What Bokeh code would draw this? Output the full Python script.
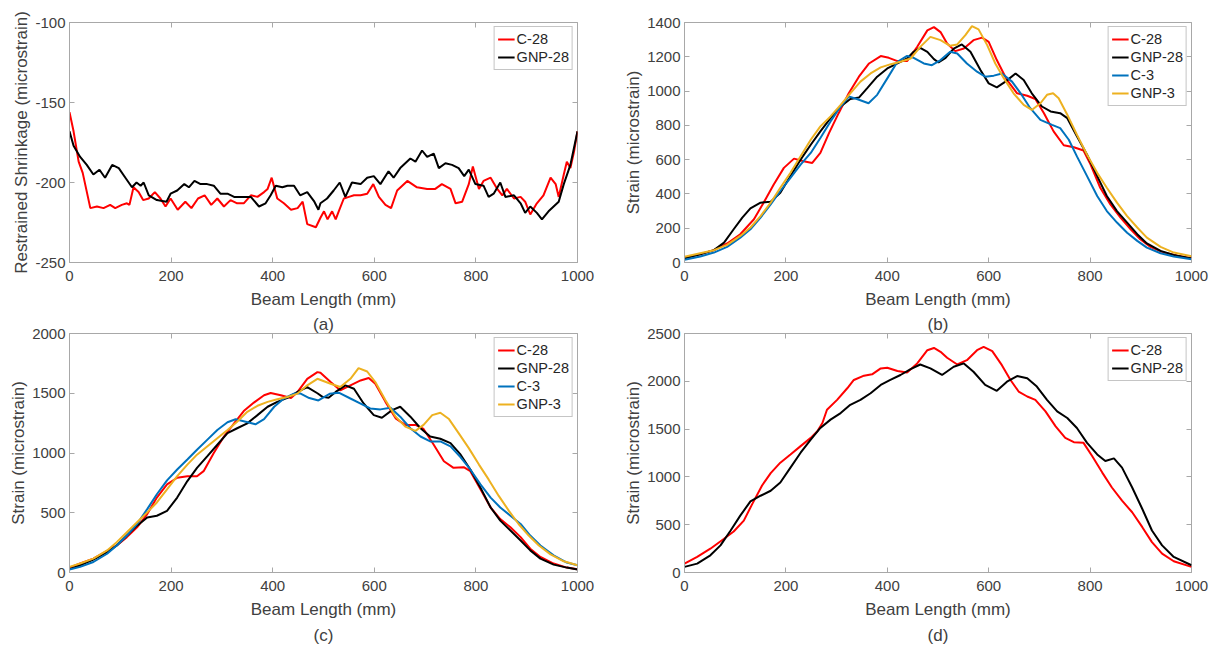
from bokeh.plotting import figure
from bokeh.models import FixedTicker, LinearAxis, Range1d, Title, Legend, LegendItem
from bokeh.layouts import column, row
from bokeh.embed import file_html
from bokeh.resources import INLINE

# ---------------- data (beam length mm, value) ----------------
X_TICKS = [0, 200, 400, 600, 800, 1000]
A_Y_TICKS = [-250, -200, -150, -100]
B_Y_TICKS = [0, 200, 400, 600, 800, 1000, 1200, 1400]
C_Y_TICKS = [0, 500, 1000, 1500, 2000]
D_Y_TICKS = [0, 500, 1000, 1500, 2000, 2500]

A_C28 = [(0, -156), (8, -168), (18, -187), (26, -194), (41, -216), (54, -215), (67, -216), (80, -214),
         (90, -216), (103, -214), (113, -213), (118, -214), (126, -203), (136, -206), (145, -211),
         (156, -210), (168, -206), (179, -210), (189, -215), (199, -210), (213, -217), (228, -212),
         (240, -216), (253, -210), (266, -208), (279, -214), (291, -210), (304, -215), (317, -211),
         (330, -213), (343, -213), (357, -208), (370, -209), (383, -206), (390, -204), (398, -197),
         (409, -210), (422, -213), (436, -217), (449, -216), (459, -212), (468, -226), (485, -228),
         (494, -222), (501, -218), (508, -223), (517, -218), (524, -223), (530, -218), (540, -210),
         (550, -209), (560, -208), (573, -208), (586, -207), (598, -201), (609, -209), (622, -214),
         (633, -216), (645, -205), (665, -199), (684, -203), (704, -204), (720, -204), (733, -201),
         (750, -204), (760, -213), (773, -212), (786, -201), (794, -190), (806, -204), (815, -199),
         (829, -197), (842, -204), (852, -208), (861, -204), (875, -210), (888, -209), (897, -212),
         (907, -220), (920, -213), (933, -208), (947, -197), (957, -201), (963, -209), (973, -195),
         (979, -187), (986, -191), (993, -181), (1000, -168)]
A_GNP28 = [(0, -168), (8, -177), (21, -184), (34, -189), (47, -195), (59, -192), (70, -197), (84, -189),
           (97, -191), (110, -197), (123, -203), (132, -200), (140, -202), (146, -200), (156, -208),
           (172, -211), (191, -212), (199, -207), (212, -205), (226, -201), (235, -203), (246, -199),
           (258, -201), (271, -201), (284, -202), (297, -207), (311, -207), (324, -209), (340, -209),
           (357, -209), (373, -215), (386, -213), (396, -208), (406, -202), (419, -203), (429, -202),
           (442, -202), (454, -208), (468, -206), (482, -212), (490, -217), (494, -213), (507, -210),
           (520, -205), (532, -200), (543, -209), (556, -200), (573, -201), (586, -197), (599, -196),
           (612, -201), (628, -193), (638, -197), (651, -191), (671, -185), (681, -187), (694, -180),
           (704, -184), (717, -182), (727, -191), (740, -188), (753, -189), (766, -191), (777, -196),
           (786, -192), (799, -201), (815, -202), (825, -209), (835, -207), (848, -200), (858, -209),
           (875, -208), (888, -213), (897, -219), (907, -215), (920, -219), (930, -223), (943, -218),
           (953, -215), (963, -212), (973, -201), (986, -189), (1000, -168)]

B_C28 = [(0, 29), (31, 48), (58, 72), (84, 111), (110, 165), (137, 252), (156, 349), (176, 455), (196, 552),
         (216, 606), (235, 591), (252, 581), (268, 639), (285, 755), (304, 871), (324, 987), (344, 1084),
         (364, 1161), (387, 1204), (403, 1194), (420, 1175), (439, 1175), (459, 1258), (479, 1354),
         (492, 1373), (505, 1344), (518, 1277), (534, 1233), (551, 1248), (570, 1297), (587, 1312),
         (600, 1287), (616, 1181), (636, 1065), (656, 987), (676, 973), (692, 954), (709, 871), (728, 765),
         (748, 684), (768, 672), (787, 653), (801, 571), (820, 436), (840, 339), (860, 262), (880, 194),
         (899, 136), (919, 91), (945, 58), (972, 39), (1000, 25)]
B_GNP28 = [(0, 23), (31, 48), (58, 72), (78, 116), (97, 194), (114, 262), (130, 316), (150, 349), (170, 355),
           (189, 407), (209, 504), (229, 600), (249, 687), (268, 765), (288, 842), (308, 910), (327, 954),
           (344, 962), (360, 1016), (380, 1084), (400, 1132), (420, 1161), (439, 1190), (452, 1229),
           (465, 1252), (479, 1229), (492, 1186), (501, 1167), (515, 1194), (531, 1248), (547, 1272),
           (564, 1229), (584, 1122), (600, 1045), (616, 1022), (633, 1055), (653, 1103), (669, 1065),
           (685, 987), (705, 910), (722, 881), (741, 871), (755, 842), (774, 736), (794, 629), (814, 504),
           (833, 388), (853, 300), (873, 233), (893, 165), (912, 111), (939, 68), (965, 44), (1000, 23)]
B_C3 = [(0, 16), (31, 35), (58, 58), (84, 91), (110, 145), (130, 194), (150, 262), (170, 339), (189, 417),
        (209, 494), (229, 571), (249, 639), (268, 726), (288, 823), (308, 910), (324, 968), (340, 954),
        (363, 929), (380, 978), (400, 1074), (420, 1171), (439, 1205), (452, 1194), (472, 1161), (488, 1151),
        (505, 1181), (524, 1229), (538, 1219), (557, 1161), (577, 1113), (593, 1084), (610, 1090),
        (626, 1103), (646, 1055), (663, 987), (682, 900), (702, 832), (725, 803), (741, 784), (758, 716),
        (774, 619), (794, 504), (814, 388), (833, 300), (853, 233), (873, 174), (893, 126), (912, 87),
        (939, 54), (965, 35), (1000, 19)]
B_GNP3 = [(0, 33), (31, 54), (58, 72), (84, 103), (110, 155), (130, 204), (150, 271), (170, 349), (189, 436),
          (209, 523), (229, 620), (249, 716), (268, 794), (288, 852), (308, 919), (327, 987), (347, 1055),
          (367, 1103), (387, 1138), (407, 1157), (426, 1171), (446, 1190), (465, 1258), (485, 1316),
          (505, 1297), (524, 1264), (538, 1272), (554, 1326), (567, 1379), (580, 1360), (597, 1268),
          (613, 1161), (630, 1074), (649, 987), (669, 919), (685, 890), (702, 929), (715, 978), (727, 987),
          (738, 958), (755, 862), (774, 745), (794, 629), (814, 523), (833, 436), (853, 349), (873, 271),
          (893, 204), (912, 145), (939, 91), (965, 58), (1000, 37)]

C_C28 = [(0, 41), (21, 75), (47, 116), (74, 180), (93, 226), (113, 296), (133, 378), (153, 489), (172, 627),
         (192, 737), (212, 793), (232, 806), (251, 806), (264, 848), (284, 1000), (304, 1138), (324, 1248),
         (343, 1351), (363, 1422), (383, 1483), (396, 1502), (416, 1483), (436, 1461), (449, 1511),
         (468, 1621), (488, 1677), (494, 1671), (514, 1594), (533, 1525), (553, 1566), (573, 1607),
         (589, 1627), (602, 1580), (622, 1428), (642, 1290), (661, 1235), (681, 1235), (697, 1201),
         (717, 1069), (737, 931), (756, 876), (776, 881), (789, 848), (809, 696), (829, 544), (848, 447),
         (868, 378), (888, 296), (907, 199), (927, 130), (953, 75), (979, 41), (1000, 28)]
C_GNP28 = [(0, 28), (21, 61), (47, 108), (74, 171), (93, 226), (113, 309), (133, 392), (153, 461), (172, 475),
           (192, 516), (212, 627), (232, 765), (251, 876), (271, 972), (291, 1069), (311, 1166), (330, 1207),
           (350, 1248), (370, 1317), (390, 1387), (409, 1428), (429, 1461), (449, 1511), (468, 1552),
           (488, 1500), (498, 1470), (510, 1462), (524, 1511), (543, 1566), (560, 1538), (579, 1414),
           (599, 1317), (615, 1295), (635, 1359), (651, 1387), (671, 1304), (691, 1207), (710, 1138),
           (730, 1119), (750, 1083), (770, 986), (789, 862), (809, 710), (829, 544), (848, 434), (868, 351),
           (888, 268), (907, 185), (927, 116), (953, 66), (979, 41), (1000, 25)]
C_C3 = [(0, 25), (21, 47), (47, 88), (74, 157), (93, 226), (113, 309), (133, 406), (153, 530), (172, 655),
        (192, 771), (212, 862), (232, 945), (251, 1027), (271, 1110), (291, 1193), (311, 1257), (327, 1282),
        (347, 1262), (366, 1240), (383, 1284), (403, 1387), (422, 1456), (442, 1497), (455, 1497),
        (472, 1460), (490, 1440), (512, 1495), (530, 1505), (553, 1456), (573, 1414), (592, 1373),
        (612, 1365), (632, 1378), (651, 1304), (671, 1207), (691, 1138), (710, 1097), (730, 1097),
        (750, 1055), (770, 964), (789, 862), (809, 737), (829, 627), (848, 544), (868, 475), (888, 406),
        (907, 309), (927, 226), (953, 144), (979, 83), (1000, 61)]
C_GNP3 = [(0, 47), (21, 75), (47, 116), (74, 185), (93, 254), (113, 337), (133, 420), (153, 503), (172, 586),
          (192, 696), (212, 806), (232, 903), (251, 986), (271, 1055), (291, 1124), (311, 1193), (330, 1262),
          (350, 1345), (370, 1395), (390, 1428), (409, 1450), (429, 1469), (449, 1497), (468, 1566),
          (488, 1621), (514, 1580), (533, 1552), (553, 1621), (569, 1710), (586, 1682), (602, 1594),
          (622, 1442), (642, 1304), (661, 1221), (681, 1185), (697, 1235), (714, 1317), (730, 1337),
          (747, 1284), (766, 1166), (786, 1041), (806, 903), (825, 779), (845, 641), (865, 516), (884, 406),
          (904, 309), (924, 226), (947, 152), (973, 94), (1000, 61)]

D_C28 = [(0, 93), (25, 163), (51, 249), (78, 353), (97, 429), (117, 543), (133, 710), (153, 910), (170, 1040),
         (189, 1149), (209, 1235), (229, 1322), (249, 1408), (262, 1477), (272, 1564), (281, 1702),
         (301, 1806), (321, 1927), (334, 2014), (354, 2059), (370, 2073), (387, 2135), (400, 2142),
         (420, 2107), (439, 2093), (459, 2187), (479, 2325), (492, 2349), (505, 2308), (518, 2246),
         (538, 2176), (557, 2221), (577, 2325), (590, 2360), (607, 2315), (626, 2169), (643, 2014),
         (659, 1893), (676, 1841), (692, 1806), (712, 1685), (732, 1529), (751, 1408), (768, 1363),
         (787, 1356), (804, 1218), (824, 1045), (843, 889), (863, 751), (883, 630), (903, 474), (922, 318),
         (942, 197), (965, 118), (1000, 59)]
D_GNP28 = [(0, 59), (25, 93), (51, 180), (71, 284), (91, 439), (110, 595), (130, 744), (150, 803), (170, 855),
           (189, 941), (209, 1097), (229, 1253), (249, 1391), (268, 1512), (288, 1599), (308, 1668),
           (327, 1754), (347, 1806), (367, 1875), (387, 1962), (406, 2014), (426, 2066), (446, 2128),
           (465, 2176), (485, 2135), (508, 2066), (531, 2152), (551, 2187), (570, 2100), (593, 1962),
           (616, 1900), (636, 1996), (656, 2055), (676, 2031), (695, 1945), (715, 1806), (735, 1685),
           (755, 1616), (774, 1512), (794, 1356), (814, 1235), (830, 1166), (847, 1194), (863, 1097),
           (883, 889), (903, 664), (922, 439), (942, 284), (965, 163), (1000, 76)]

NAMES4 = ["C-28", "GNP-28", "C-3", "GNP-3"]
COLORS4 = ["#ff0000", "#000000", "#0072bd", "#edb120"]

# ---------------- styling ----------------
FONT = "Liberation Sans"
TXT = "#404040"
FRAME = "#a8a8a8"


def panel(fw, fh, left, right, top, bottom, yr, yticks, ylabel, series, above_text=None, below_text=None):
    p = figure(frame_width=fw, frame_height=fh, x_range=Range1d(0, 1000), y_range=Range1d(*yr),
               output_backend="svg", toolbar_location=None,
               min_border_left=left, min_border_right=right, min_border_top=top, min_border_bottom=bottom,
               background_fill_color="white", border_fill_color="white")
    p.xgrid.visible = False
    p.ygrid.visible = False
    p.outline_line_color = FRAME
    p.outline_line_width = 1

    for ax, ticks in ((p.xaxis[0], X_TICKS), (p.yaxis[0], yticks)):
        ax.ticker = FixedTicker(ticks=ticks, minor_ticks=[])
        ax.major_label_overrides = {t: str(t) for t in ticks}   # plain hyphen minus, as in the source
        ax.axis_line_color = FRAME
        ax.major_tick_line_color = FRAME
        ax.major_tick_in = 5
        ax.major_tick_out = 0
        ax.minor_tick_line_color = None
        ax.major_label_text_font = FONT
        ax.major_label_text_font_size = "15px"
        ax.major_label_text_color = TXT
        ax.axis_label_text_font = FONT
        ax.axis_label_text_font_size = "17px"
        ax.axis_label_text_font_style = "normal"
        ax.axis_label_text_color = TXT
    p.xaxis.axis_label = "Beam Length (mm)"
    p.xaxis.major_label_standoff = 8
    p.xaxis.axis_label_standoff = 6
    p.yaxis.axis_label = ylabel
    p.yaxis.major_label_standoff = 4
    p.yaxis.axis_label_standoff = 1

    # box ticks on the right and top sides (no labels)
    for side, ticks in (("right", yticks), ("above", X_TICKS)):
        ax = LinearAxis(ticker=FixedTicker(ticks=ticks, minor_ticks=[]), axis_line_color=None,
                        major_tick_line_color=FRAME, major_tick_in=5, major_tick_out=0,
                        minor_tick_line_color=None, major_label_text_font_size="1px",
                        major_label_text_color=None, major_label_standoff=0)
        p.add_layout(ax, side)

    items = []
    for name, pts, col in series:
        r = p.line([a for a, _ in pts], [b for _, b in pts], line_color=col, line_width=2)
        items.append(LegendItem(label=name, renderers=[r]))
    leg = Legend(items=items, location="top_right", margin=4, padding=3, spacing=0,
                 glyph_width=17, glyph_height=18, label_height=18, label_standoff=2,
                 label_text_font=FONT, label_text_font_size="14.5px", label_text_color="#262626",
                 border_line_color="#8c8c8c", border_line_width=1, background_fill_color="white",
                 background_fill_alpha=1.0)
    p.add_layout(leg)

    if above_text:
        p.add_layout(Title(text=above_text, align="center", text_font=FONT, text_font_size="17px",
                           text_font_style="normal", text_color=TXT, standoff=0), "above")
    if below_text:
        p.add_layout(Title(text=below_text, align="center", text_font=FONT, text_font_size="17px",
                           text_font_style="normal", text_color=TXT, standoff=4), "below")
    return p


pa = panel(508, 240, 69, 29, 22, 50, (-250, -100), A_Y_TICKS, "Restrained Shrinkage (microstrain)",
           [(NAMES4[0], A_C28, COLORS4[0]), (NAMES4[1], A_GNP28, COLORS4[1])])
pb = panel(507, 240, 78, 22, 22, 50, (0, 1400), B_Y_TICKS, "Strain (microstrain)",
           [(NAMES4[0], B_C28, COLORS4[0]), (NAMES4[1], B_GNP28, COLORS4[1]),
            (NAMES4[2], B_C3, COLORS4[2]), (NAMES4[3], B_GNP3, COLORS4[3])])
pc = panel(508, 239, 69, 29, 21, 74, (0, 2000), C_Y_TICKS, "Strain (microstrain)",
           [(NAMES4[0], C_C28, COLORS4[0]), (NAMES4[1], C_GNP28, COLORS4[1]),
            (NAMES4[2], C_C3, COLORS4[2]), (NAMES4[3], C_GNP3, COLORS4[3])],
           above_text="(a)", below_text="(c)")
pd = panel(507, 239, 78, 22, 21, 74, (0, 2500), D_Y_TICKS, "Strain (microstrain)",
           [(NAMES4[0], D_C28, COLORS4[0]), (NAMES4[1], D_GNP28, COLORS4[1])],
           above_text="(b)", below_text="(d)")

layout = column(row(pa, pb, spacing=0), row(pc, pd, spacing=0), spacing=0)

with open("out.html", "w") as f:
    f.write(file_html(layout, INLINE))
